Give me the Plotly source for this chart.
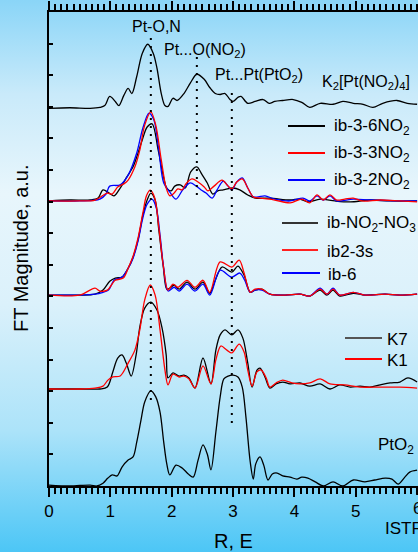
import base64
import plotly.graph_objects as go

# ---------------- data (R in Angstrom, FT magnitude in a.u. above each curve's baseline) ----------------
offsets = {"K2": 11.95, "ib3": 9.02, "ibN": 6.04, "K": 3.07, "PtO2": 0.06}

k2_r = [0, 0.34, 0.67, 0.83, 0.91, 0.99, 1.08, 1.14, 1.22, 1.29, 1.35, 1.43, 1.52, 1.61, 1.70, 1.76, 1.83, 1.89,
        1.94, 2.02, 2.09, 2.20, 2.30, 2.41, 2.53, 2.62, 2.71, 2.79, 2.87, 2.95, 3.00, 3.08, 3.13, 3.24, 3.36,
        3.49, 3.59, 3.68, 3.81, 3.98, 4.12, 4.25, 4.42, 4.63, 4.79, 4.96, 5.12, 5.28, 5.44, 5.67, 5.84, 6.00]
k2_m = [0, 0.02, 0, 0.03, 0.09, 0.38, 0.22, 0.09, 0.41, 0.63, 0.47, 1.01, 1.74, 2.03, 1.74, 1.27, 0.47, 0.09,
        0.06, 0.32, 0.25, 0.47, 0.79, 1.08, 0.92, 0.66, 0.47, 0.44, 0.47, 0.28, 0.22, 0.35, 0.38, 0.16, 0.22,
        0.28, 0.16, 0.22, 0.25, 0.28, 0.19, 0.03, 0.16, 0.13, 0.22, 0.16, 0.13, 0.03, 0.16, 0.25, 0.16, 0.13]

ib36_r = [0, 0.34, 0.67, 0.80, 0.88, 0.98, 1.06, 1.16, 1.27, 1.37, 1.43, 1.52, 1.60, 1.68, 1.78, 1.86, 1.92,
          1.99, 2.05, 2.14, 2.22, 2.31, 2.41, 2.49, 2.58, 2.67, 2.75, 2.84, 3.00, 3.11, 3.24, 3.36, 3.60,
          3.93, 4.09, 4.22, 4.42, 4.66, 4.91, 5.23, 5.56, 6.00]
ib36_m = [0, 0.03, 0.03, 0.09, 0.35, 0.25, 0.16, 0.41, 0.76, 1.08, 1.39, 1.93, 2.34, 2.44, 1.61, 0.82, 0.41,
          0.32, 0.47, 0.51, 0.41, 0.92, 1.08, 0.85, 0.57, 0.22, 0.32, 0.35, 0.41, 0.35, 0.19, 0.09, 0.09,
          0.03, 0.06, -0.03, 0.06, 0, -0.03, 0.03, 0, 0]

ib33_r = [0, 0.50, 0.75, 0.95, 1.03, 1.12, 1.22, 1.29, 1.40, 1.48, 1.56, 1.66, 1.74, 1.83, 1.91, 1.97, 2.04,
          2.10, 2.17, 2.23, 2.33, 2.43, 2.53, 2.59, 2.69, 2.82, 2.92, 2.98, 3.06, 3.15, 3.24, 3.33, 3.44,
          3.68, 3.93, 4.12, 4.25, 4.37, 4.47, 4.58, 4.69, 4.82, 4.96, 5.10, 5.40, 5.72, 6.00]
ib33_m = [0, 0, 0.03, 0.25, 0.22, 0.44, 0.54, 0.66, 1.08, 1.61, 2.40, 2.82, 2.40, 1.30, 0.41, 0.16, 0.25,
          0.38, 0.35, 0.54, 0.70, 0.60, 0.44, 0.32, 0.47, 0.66, 0.47, 0.38, 0.60, 0.70, 0.41, 0.13, 0.09,
          0.03, -0.06, 0.06, -0.06, 0.19, 0.03, 0.19, 0.03, 0.06, 0.09, 0, 0.03, 0, -0.03]

ib32_r = [0, 0.50, 0.83, 0.93, 0.99, 1.16, 1.29, 1.43, 1.53, 1.63, 1.71, 1.79, 1.87, 1.97, 2.07, 2.18, 2.30,
          2.40, 2.48, 2.56, 2.66, 2.74, 2.84, 2.92, 2.98, 3.06, 3.15, 3.24, 3.33, 3.41, 3.52, 3.68, 3.93,
          4.14, 4.25, 4.37, 4.47, 4.58, 4.69, 4.96, 5.23, 5.72, 6.00]
ib32_m = [0, 0, 0.06, 0.22, 0.47, 0.51, 0.82, 1.52, 2.31, 2.78, 2.56, 1.61, 0.57, 0.28, 0.06, 0.35, 0.57,
          0.47, 0.35, 0.25, 0.09, 0.35, 0.63, 0.47, 0.35, 0.60, 0.73, 0.41, 0.13, 0.13, 0.16, 0.06, 0,
          0.09, 0, 0.16, 0.03, 0.16, 0, 0.06, 0.03, 0, 0]

ibnn_r = [0, 0.50, 0.75, 0.88, 0.99, 1.08, 1.19, 1.29, 1.37, 1.45, 1.53, 1.60, 1.66, 1.73, 1.79, 1.86, 1.92,
          1.97, 2.04, 2.12, 2.25, 2.38, 2.51, 2.62, 2.71, 2.82, 2.98, 3.08, 3.18, 3.28, 3.36, 3.47, 3.60,
          3.85, 4.09, 4.25, 4.42, 4.53, 4.63, 4.74, 4.96, 5.15, 5.48, 5.72, 6.00]
ibnn_m = [0, 0, 0.03, 0.16, 0.44, 0.54, 0.57, 0.85, 1.20, 1.74, 2.53, 3.01, 3.23, 3.01, 2.06, 0.95, 0.19,
          0.22, 0.32, 0.19, 0.41, 0.19, 0.41, 0.06, 0.47, 0.89, 0.73, 0.92, 0.63, 0.09, 0.16, 0.19, 0.03,
          0, 0.03, -0.03, 0.16, 0, 0.16, -0.03, 0.06, 0, 0.03, 0, 0.03]

ib23_r = [0, 0.50, 0.75, 0.83, 0.95, 1.08, 1.21, 1.29, 1.37, 1.45, 1.53, 1.59, 1.65, 1.72, 1.79, 1.86, 1.94,
          2.02, 2.10, 2.25, 2.38, 2.51, 2.62, 2.79, 2.98, 3.10, 3.18, 3.28, 3.36, 3.47, 3.60, 3.85, 4.09,
          4.25, 4.42, 4.53, 4.63, 4.74, 4.96, 5.15, 5.48, 5.72, 6.00]
ib23_m = [0, 0, 0.22, 0.13, 0.16, 0.47, 0.54, 0.85, 1.23, 1.80, 2.60, 3.15, 3.32, 3.10, 2.15, 0.98, 0.16,
          0.35, 0.25, 0.47, 0.25, 0.47, 0.09, 1.05, 0.89, 1.11, 0.70, 0.09, 0.19, 0.19, 0.03, 0, 0.03,
          -0.03, 0.19, 0.03, 0.19, 0, 0.09, 0, 0.03, 0, 0.03]

ib6_r = [0, 0.50, 0.75, 0.88, 0.97, 1.06, 1.19, 1.29, 1.37, 1.45, 1.53, 1.60, 1.68, 1.75, 1.81, 1.87, 1.94,
         2.04, 2.12, 2.25, 2.38, 2.51, 2.62, 2.79, 2.98, 3.11, 3.19, 3.28, 3.36, 3.47, 3.60, 3.85, 4.09,
         4.25, 4.42, 4.53, 4.63, 4.74, 4.96, 5.15, 5.48, 5.72, 6.00]
ib6_m = [0, 0, 0.03, 0.09, 0.16, 0.47, 0.57, 0.85, 1.17, 1.70, 2.45, 2.88, 3.04, 2.75, 1.90, 0.85, 0.13,
         0.25, 0.13, 0.35, 0.13, 0.35, 0, 0.79, 0.57, 0.70, 0.47, 0.09, 0.16, 0.16, 0.03, 0, 0.03,
         -0.03, 0.22, 0.03, 0.22, 0, 0.09, 0, 0.03, 0, 0.03]

k7_r = [0, 0.50, 0.83, 0.95, 1.04, 1.12, 1.19, 1.26, 1.34, 1.42, 1.48, 1.56, 1.66, 1.76, 1.84, 1.91, 1.94,
        2.02, 2.12, 2.20, 2.28, 2.38, 2.51, 2.64, 2.72, 2.79, 2.87, 2.98, 3.08, 3.16, 3.24, 3.31, 3.39,
        3.44, 3.52, 3.60, 3.70, 3.81, 3.93, 4.09, 4.25, 4.42, 4.58, 4.74, 4.91, 5.07, 5.23, 5.40, 5.56,
        5.72, 5.85, 6.00]
k7_m = [0, 0, 0, 0.06, 0.54, 0.98, 1.08, 0.82, 0.41, 1.08, 1.96, 2.56, 2.75, 2.50, 1.96, 1.08, 0.35,
        0.51, 0.41, 0.44, 0.35, 0.03, 0.98, 0.16, 1.23, 1.71, 1.87, 1.71, 1.87, 1.61, 0.82, 0.06, 0.60,
        0.66, 0.38, 0.03, 0.16, 0.22, 0.16, 0.19, 0.09, 0.16, 0, 0.13, 0.06, 0.09, 0.06, 0.13, 0.19,
        0.22, 0.35, 0.22]

k1_r = [0, 0.50, 0.75, 0.88, 0.96, 1.04, 1.16, 1.29, 1.40, 1.48, 1.56, 1.65, 1.73, 1.81, 1.89, 1.94, 2.02,
        2.12, 2.20, 2.28, 2.38, 2.51, 2.64, 2.72, 2.80, 2.90, 2.98, 3.10, 3.18, 3.24, 3.31, 3.39, 3.46,
        3.54, 3.60, 3.70, 3.81, 3.96, 4.09, 4.25, 4.42, 4.58, 4.82, 5.07, 5.40, 5.72, 6.00]
k1_m = [0, 0, 0.03, 0.09, 0.28, 0.38, 0.41, 0.82, 1.23, 1.87, 2.82, 3.29, 2.97, 1.87, 0.60, 0.13, 0.47,
        0.38, 0.41, 0.32, 0.03, 0.73, 0.16, 0.92, 1.36, 1.23, 1.14, 1.42, 1.17, 0.60, 0.09, 0.54, 0.60,
        0.35, 0.06, 0.19, 0.28, 0.19, 0.16, 0.19, 0.32, 0.16, 0.13, 0.06, 0.06, 0.06, 0.03]

pto2_r = [0, 0.34, 0.67, 0.78, 0.88, 0.96, 1.03, 1.11, 1.19, 1.29, 1.37, 1.43, 1.50, 1.56, 1.66, 1.74, 1.81,
          1.87, 1.92, 1.97, 2.07, 2.17, 2.27, 2.35, 2.43, 2.51, 2.58, 2.64, 2.72, 2.79, 2.85, 2.92, 3.00,
          3.08, 3.15, 3.21, 3.28, 3.33, 3.37, 3.44, 3.50, 3.57, 3.64, 3.72, 3.81, 3.93, 4.04, 4.12, 4.22,
          4.34, 4.47, 4.63, 4.79, 4.96, 5.15, 5.31, 5.48, 5.59, 5.69, 5.80, 5.88, 6.00]
pto2_m = [-0.03, -0.06, -0.03, -0.06, 0.03, 0.19, 0.29, 0.26, 0.54, 0.76, 0.86, 1.33, 2.03, 2.60, 2.95, 2.76,
          2.28, 1.33, 0.64, 0.29, 0.60, 0.51, 0.32, 0.22, 0.76, 1.24, 0.95, 0.45, 1.65, 2.76, 3.33, 3.42,
          3.45, 3.39, 3.07, 2.12, 0.70, 0.16, 0.64, 0.86, 0.60, 0.13, 0.32, 0.35, 0.26, 0.22, 0.16, 0.22,
          0.19, 0.07, -0.06, 0.07, -0.06, 0.13, 0.07, 0.13, 0.19, 0.16, 0.0, 0.22, 0.38, 0.44]

x_ticks = [0, 1, 2, 3, 4, 5, 6]
peak_lines = [(1.66, 2.72, 14.21), (2.41, 9.21, 13.58), (2.98, 1.99, 12.63)]

# ---------------- geometry helpers (layout only) ----------------
W, H = 418, 552
L, T, B = 49, 12, 486
XMAX = (W - L) / 61.35
YMAX = 15


def dx(px):
    return (px - L) / 61.35


def dy(py):
    return (B - py) / ((B - T) / YMAX)


def paper_x(px):
    return (px - L) / (W - L)


def paper_y(py):
    return (B - py) / (B - T)


fig = go.Figure()

series = [
    (k2_r, k2_m, "K2", "black"),
    (ib36_r, ib36_m, "ib3", "black"),
    (ib32_r, ib32_m, "ib3", "blue"),
    (ib33_r, ib33_m, "ib3", "red"),
    (ibnn_r, ibnn_m, "ibN", "black"),
    (ib6_r, ib6_m, "ibN", "blue"),
    (ib23_r, ib23_m, "ibN", "red"),
    (k7_r, k7_m, "K", "black"),
    (k1_r, k1_m, "K", "red"),
    (pto2_r, pto2_m, "PtO2", "black"),
]
for r, m, key, col in series:
    fig.add_trace(go.Scatter(
        x=r, y=[v + offsets[key] for v in m], mode="lines",
        line=dict(color=col, width=1.3, shape="spline", smoothing=0.9),
        showlegend=False, hoverinfo="skip"))

shapes = []
for xr, y0, y1 in peak_lines:
    shapes.append(dict(type="line", xref="x", yref="y", x0=xr, x1=xr, y0=y0, y1=y1,
                       line=dict(color="black", width=2, dash="2px,6px")))

# legend swatches
legend_items = [
    (288, 325, 126, "black", "ib-3-6NO<sub>2</sub>", 332),
    (288, 325, 153, "#ff0000", "ib-3-3NO<sub>2</sub>", 332),
    (288, 325, 180, "#0000ff", "ib-3-2NO<sub>2</sub>", 332),
    (282, 318, 223, "#333333", "ib-NO<sub>2</sub>-NO<sub>3</sub>", 325),
    (282, 318, 250, "#ff2020", "ib2-3s", 325),
    (282, 320, 273, "#0000ff", "ib-6", 326),
    (345, 382, 338, "#555555", "K7", 385),
    (345, 382, 359, "#ff0000", "K1", 385),
]
annotations = []
font = dict(family="Arial, Liberation Sans, sans-serif", size=17, color="black")
for x0, x1, yy, col, txt, tx in legend_items:
    shapes.append(dict(type="line", xref="x", yref="y", x0=dx(x0), x1=dx(x1), y0=dy(yy), y1=dy(yy),
                       line=dict(color=col, width=1.8)))
    annotations.append(dict(x=dx(tx), y=dy(yy + 1), xref="x", yref="y", text=txt, showarrow=False,
                            xanchor="left", yanchor="middle", font=font))

labels = [
    (156, 26, "Pt-O,N", "center", 16),
    (162, 50, "Pt...O(NO<sub>2</sub>)", "left", 16),
    (213, 75, "Pt...Pt(PtO<sub>2</sub>)", "left", 16),
    (320, 82, "K<sub>2</sub>[Pt(NO<sub>2</sub>)<sub>4</sub>]", "left", 16),
    (376, 446, "PtO<sub>2</sub>", "left", 17),
]
for px, py, txt, anc, fs in labels:
    annotations.append(dict(x=dx(px), y=dy(py), xref="x", yref="y", text=txt, showarrow=False,
                            xanchor=anc, yanchor="middle",
                            font=dict(family="Arial, Liberation Sans, sans-serif", size=fs, color="black")))

# axis titles, edge tick label and watermark
annotations.append(dict(x=paper_x(21), y=paper_y(248), xref="paper", yref="paper", text="FT Magnitude, a.u.",
                        textangle=-90, showarrow=False, xanchor="center", yanchor="middle",
                        font=dict(family="Arial, Liberation Sans, sans-serif", size=20, color="black")))
annotations.append(dict(x=paper_x(233), y=paper_y(541), xref="paper", yref="paper", text="R, E",
                        showarrow=False, xanchor="center", yanchor="middle",
                        font=dict(family="Arial, Liberation Sans, sans-serif", size=20, color="black")))
annotations.append(dict(x=paper_x(383), y=paper_y(528), xref="paper", yref="paper", text="ISTR",
                        showarrow=False, xanchor="left", yanchor="middle",
                        font=dict(family="Arial, Liberation Sans, sans-serif", size=17, color="black")))
annotations.append(dict(x=x_ticks[-1], y=paper_y(508), xref="x", yref="paper", text=str(x_ticks[-1]),
                        showarrow=False, xanchor="center", yanchor="middle",
                        font=dict(family="Arial, Liberation Sans, sans-serif", size=17, color="black")))

# background gradient
svg = ("<svg xmlns='http://www.w3.org/2000/svg' width='418' height='552' preserveAspectRatio='none'>"
       "<defs><linearGradient id='g' x1='0' y1='0' x2='0' y2='1'>"
       "<stop offset='0' stop-color='#8ad5f7'/>"
       "<stop offset='0.17' stop-color='#c9eafa'/>"
       "<stop offset='0.35' stop-color='#e8f6fc'/>"
       "<stop offset='0.55' stop-color='#dbf1fb'/>"
       "<stop offset='0.78' stop-color='#ace3f9'/>"
       "<stop offset='1' stop-color='#4cc6f6'/>"
       "</linearGradient></defs><rect width='418' height='552' fill='url(#g)'/></svg>")
src = "data:image/svg+xml;base64," + base64.b64encode(svg.encode()).decode()

fig.update_layout(
    width=W, height=H,
    margin=dict(l=L, r=0, t=T, b=H - B, pad=0),
    paper_bgcolor="#c9eafa", plot_bgcolor="rgba(0,0,0,0)",
    shapes=shapes, annotations=annotations,
    images=[dict(source=src, xref="paper", yref="paper", x=paper_x(0), y=paper_y(0),
                 sizex=W / (W - L), sizey=H / (B - T), xanchor="left", yanchor="top",
                 sizing="stretch", layer="below")],
    font=dict(family="Arial, Liberation Sans, sans-serif", color="black"),
)
fig.update_xaxes(range=[0, XMAX], tickvals=x_ticks[:-1], ticks="outside", ticklen=9, tickwidth=2,
                 tickcolor="black", showline=True, linewidth=2, linecolor="black", mirror="ticks",
                 showgrid=False, zeroline=False, tickfont=dict(size=17, color="black"),
                 minor=dict(dtick=0.1, ticks="outside", ticklen=6, tickwidth=1.5, tickcolor="black",
                            showgrid=False))
fig.add_shape(type="line", xref="x", yref="paper", x0=x_ticks[-1], x1=x_ticks[-1],
              y0=0, y1=-9 / (B - T), line=dict(color="black", width=2))
fig.update_yaxes(range=[0, YMAX], tickvals=list(range(0, 16)), ticks="inside", ticklen=4, tickwidth=1.5,
                 tickcolor="black", showline=True, linewidth=2, linecolor="black", showticklabels=False,
                 showgrid=False, zeroline=False)

fig.write_html("out.html")
